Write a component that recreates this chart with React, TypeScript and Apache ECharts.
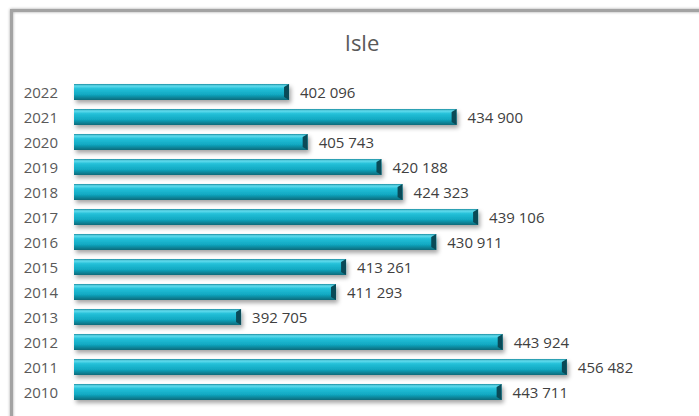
import React, { useEffect, useRef } from "react";
import * as echarts from "echarts";

const years = ["2010", "2011", "2012", "2013", "2014", "2015", "2016", "2017", "2018", "2019", "2020", "2021", "2022"];
const values = [443711, 456482, 443924, 392705, 411293, 413261, 430911, 439106, 424323, 420188, 405743, 434900, 402096];
const titleText = "Isle";

const fmt = (v: number) => {
  const s = String(v);
  return s.replace(/\B(?=(\d{3})+(?!\d))/g, " ");
};

export default function App() {
  const ref = useRef<HTMLDivElement>(null);
  useEffect(() => {
    document.body.style.margin = "0";
    const chart = echarts.init(ref.current!, null, { renderer: "svg" });
    const font = "'Open Sans', 'Noto Sans', sans-serif";
    chart.setOption({
      animation: false,
      backgroundColor: "#ffffff",
      title: {
        text: titleText,
        left: 357,
        top: 26,
        textAlign: "center",
        textStyle: { fontFamily: font, fontSize: 22, fontWeight: "normal", color: "#595959" },
      },
      graphic: [
        {
          type: "rect",
          shape: { x: 11.5, y: 10.5, width: 800, height: 500 },
          style: { fill: "none", stroke: "#a3a3a3", lineWidth: 3, shadowBlur: 3, shadowColor: "rgba(0,0,0,0.35)" },
          z: 100,
          silent: true,
        },
      ],
      grid: { left: 74, right: 12, top: 79.5, bottom: 11.5 },
      xAxis: {
        type: "value",
        min: 360000,
        max: 480000,
        show: false,
      },
      yAxis: {
        type: "category",
        data: years,
        axisLine: { show: false },
        axisTick: { show: false },
        axisLabel: { fontFamily: font, fontSize: 15, color: "#595959", margin: 16 },
      },
      series: [
        {
          type: "bar",
          data: values,
          barWidth: 16,
          itemStyle: {
            color: new echarts.graphic.LinearGradient(0, 0, 0, 1, [
              { offset: 0, color: "#1a8da0" },
              { offset: 0.12, color: "#62dcee" },
              { offset: 0.3, color: "#22c0d8" },
              { offset: 0.65, color: "#12a9c2" },
              { offset: 1, color: "#08697a" },
            ]),
            shadowColor: "rgba(0,0,0,0.35)",
            shadowBlur: 4,
            shadowOffsetX: 2,
            shadowOffsetY: 3,
          },
          label: {
            show: true,
            position: "right",
            distance: 11,
            fontFamily: font,
            fontSize: 15,
            color: "#404040",
            formatter: (p: any) => fmt(p.value),
          },
        },
        {
          type: "custom",
          data: values.map((v, i) => [v, i]),
          z: 3,
          silent: true,
          renderItem: (params: any, api: any) => {
            const end = api.coord([api.value(0), api.value(1)]);
            const h = 16;
            const x = end[0];
            const y = end[1];
            return {
              type: "polygon",
              shape: {
                points: [
                  [x - 5, y - h / 2 + 3],
                  [x, y - h / 2],
                  [x, y + h / 2],
                  [x - 5, y + h / 2 - 3],
                ],
              },
              style: { fill: "#0a4a57" },
            };
          },
        },
      ],
    });
    return () => chart.dispose();
  }, []);
  return <div ref={ref} style={{ width: 699, height: 416 }} />;
}
